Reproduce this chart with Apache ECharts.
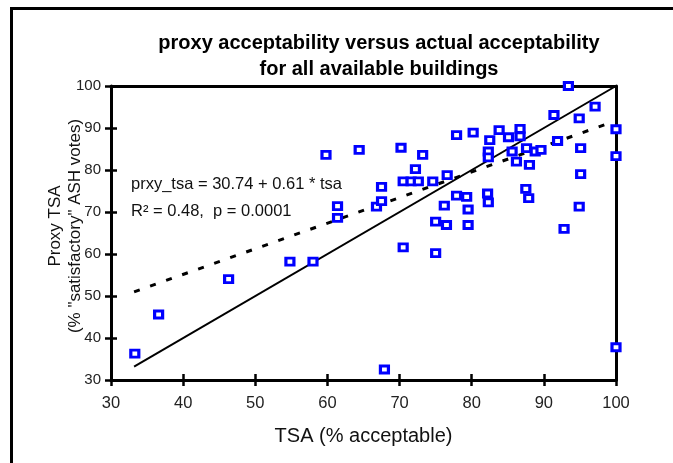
<!DOCTYPE html>
<html>
<head>
<meta charset="utf-8">
<script src="https://cdn.jsdelivr.net/npm/echarts@6/dist/echarts.min.js"></script>
<style>
  html, body { margin: 0; padding: 0; background: #fff; }
  #chart { width: 673px; height: 463px; }
</style>
</head>
<body>
<div id="chart"></div>
<script>
// Building-level acceptability: actual TSA (% acceptable) vs proxy TSA (% satisfactory ASH votes)
const tsa = [
  33.3, 36.6, 46.3, 54.8, 58.0, 59.8, 61.4, 61.4, 64.4, 66.8,
  67.5, 67.5, 67.9, 70.2, 70.5, 70.5, 71.6, 72.6, 72.2, 73.2,
  74.6, 75.0, 75.0, 76.5, 76.2, 76.6, 77.9, 77.9, 79.3, 79.5,
  79.5, 80.2, 82.2, 82.3, 82.3, 82.3, 82.5, 83.8, 85.1, 85.6,
  86.2, 86.7, 86.7, 87.5, 87.6, 87.9, 88.0, 88.8, 89.6, 91.4,
  91.9, 92.8, 93.4, 94.9, 94.9, 95.1, 95.1, 97.1, 100.0, 100.0,
  100.0
];
const proxyTsa = [
  36.3, 45.6, 54.0, 58.2, 58.2, 83.6, 71.4, 68.6, 84.8, 71.3,
  72.6, 76.0, 32.5, 85.3, 61.6, 77.3, 77.3, 77.3, 80.2, 83.6,
  77.3, 60.2, 67.7, 66.9, 71.5, 78.8, 88.3, 73.9, 73.6, 70.6,
  66.9, 88.9, 74.4, 72.3, 84.4, 83.0, 87.1, 89.5, 87.8, 84.4,
  82.0, 89.8, 88.0, 75.5, 85.2, 73.3, 81.2, 84.4, 84.8, 93.1,
  86.9, 66.0, 100.0, 92.3, 71.3, 85.2, 79.0, 95.1, 89.7, 83.3,
  37.8
];

// Linear fit reported on the chart
const fitIntercept = 30.74;
const fitSlope = 0.61;
const fitR2 = 0.48;
const fitP = '0.0001';
const fitRange = [33.2, 98.5];
// Line of equality (proxy = actual)
const equalityRange = [33.2, 100];

const axisTicks = [30, 40, 50, 60, 70, 80, 90, 100];

const FONT = 'Liberation Sans, Arial, sans-serif';

const points = tsa.map((x, i) => [x, proxyTsa[i]]);
const fitLine = fitRange.map(x => [x, fitIntercept + fitSlope * x]);
const equalityLine = equalityRange.map(x => [x, x]);

const chart = echarts.init(document.getElementById('chart'), null, { renderer: 'canvas' });

const common = {
  min: axisTicks[0],
  max: axisTicks[axisTicks.length - 1],
  interval: axisTicks[1] - axisTicks[0],
  splitLine: { show: false }
};

chart.setOption({
  animation: false,
  backgroundColor: '#fff',
  title: {
    text: 'proxy acceptability versus actual acceptability\nfor all available buildings',
    left: 374,
    top: 25,
    textAlign: 'center',
    textStyle: { fontFamily: FONT, fontSize: 20, fontWeight: 'bold', color: '#000', lineHeight: 26 }
  },
  grid: [
    { left: 111, right: 57, top: 86, bottom: 83 },
    { left: 111, right: 57, top: 86, bottom: 83 }
  ],
  xAxis: [
    Object.assign({}, common, {
      type: 'value', gridIndex: 0, position: 'bottom',
      name: 'TSA (% acceptable)', nameLocation: 'middle', nameGap: 46,
      nameTextStyle: { fontFamily: FONT, fontSize: 20, color: '#111' },
      axisLine: { show: true, lineStyle: { color: '#000', width: 3 } },
      axisTick: { show: true, inside: false, length: 6, lineStyle: { color: '#000', width: 2.5 } },
      axisLabel: { show: true, margin: 15, fontFamily: FONT, fontSize: 16.5, color: '#222' }
    }),
    Object.assign({}, common, {
      type: 'value', gridIndex: 0, position: 'top',
      axisLine: { show: true, lineStyle: { color: '#000', width: 3 } },
      axisTick: { show: false }, axisLabel: { show: false }
    }),
    Object.assign({}, common, {
      type: 'value', gridIndex: 1, position: 'bottom',
      axisLine: { show: false },
      axisTick: { show: true, inside: true, length: 6, lineStyle: { color: '#000', width: 2.5 } },
      axisLabel: { show: false }
    })
  ],
  yAxis: [
    Object.assign({}, common, {
      type: 'value', gridIndex: 0, position: 'left',
      axisLine: { show: true, lineStyle: { color: '#000', width: 3 } },
      axisTick: { show: true, inside: false, length: 6, lineStyle: { color: '#000', width: 2.5 } },
      axisLabel: { show: true, margin: 10, fontFamily: FONT, fontSize: 15, color: '#222' }
    }),
    Object.assign({}, common, {
      type: 'value', gridIndex: 0, position: 'right',
      axisLine: { show: true, lineStyle: { color: '#000', width: 3 } },
      axisTick: { show: false }, axisLabel: { show: false }
    }),
    Object.assign({}, common, {
      type: 'value', gridIndex: 1, position: 'left',
      axisLine: { show: false },
      axisTick: { show: true, inside: true, length: 6, lineStyle: { color: '#000', width: 2.5 } },
      axisLabel: { show: false }
    })
  ],
  graphic: [
    { type: 'rect', silent: true, z: -10,
      shape: { x: 11.5, y: 8.5, width: 800, height: 600 },
      style: { fill: 'none', stroke: '#000', lineWidth: 3 } },
    { type: 'text', x: 55, y: 226, rotation: Math.PI / 2,
      style: { text: 'Proxy TSA', fontFamily: FONT, fontSize: 17, fill: '#111',
        textAlign: 'center', textVerticalAlign: 'middle' } },
    { type: 'text', x: 75, y: 226, rotation: Math.PI / 2,
      style: { text: '(% "satisfactory" ASH votes)', fontFamily: FONT, fontSize: 17, fill: '#111',
        textAlign: 'center', textVerticalAlign: 'middle' } },
    { type: 'text', x: 131, y: 184,
      style: { text: 'prxy_tsa = ' + fitIntercept.toFixed(2) + ' + ' + fitSlope.toFixed(2) + ' * tsa',
        fontFamily: FONT, fontSize: 16.5, fill: '#111', textVerticalAlign: 'middle' } },
    { type: 'text', x: 131, y: 211,
      style: { text: 'R\u00b2 = ' + fitR2.toFixed(2) + ',  p = ' + fitP,
        fontFamily: FONT, fontSize: 16.5, fill: '#111', textVerticalAlign: 'middle' } }
  ],
  series: [
    {
      type: 'line', xAxisIndex: 0, yAxisIndex: 0,
      data: equalityLine, symbol: 'none', silent: true, z: 3,
      lineStyle: { color: '#000', width: 2 }
    },
    {
      type: 'line', xAxisIndex: 0, yAxisIndex: 0,
      data: fitLine, symbol: 'none', silent: true, z: 3,
      lineStyle: { color: '#000', width: 3, type: [6, 11] }
    },
    {
      type: 'scatter', xAxisIndex: 0, yAxisIndex: 0,
      data: points, clip: false, z: 4,
      symbol: 'rect', symbolSize: [8, 7],
      itemStyle: { color: '#fff', borderColor: '#0000ff', borderWidth: 3, opacity: 1 }
    }
  ]
});
</script>
</body>
</html>
